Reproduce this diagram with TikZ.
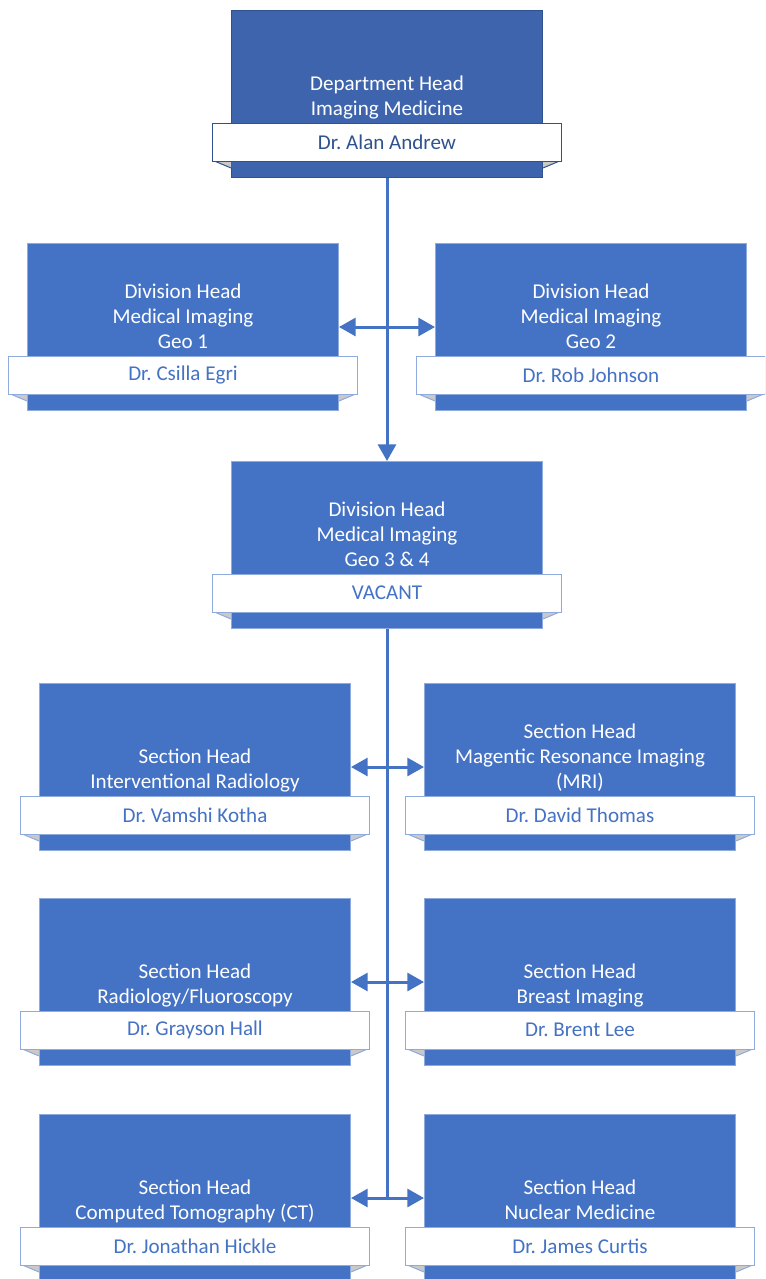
\documentclass[tikz,border=0pt]{standalone}
\usepackage{fontspec}
\setmainfont{Carlito}
\frenchspacing
\usetikzlibrary{arrows.meta,calc}
\definecolor{boxblue}{HTML}{4472C4}
\definecolor{topblue}{HTML}{3E64AE}
\definecolor{darkline}{HTML}{2F528F}
\definecolor{edgeblue}{HTML}{8FAADC}
\definecolor{foldgray}{HTML}{C9C9C9}
\tikzset{
 orgbox/.style={rectangle, fill=boxblue, draw=edgeblue, line width=0.75pt, minimum width=233.25pt, minimum height=125.25pt, inner sep=0pt, anchor=north west},
 topbox/.style={orgbox, fill=topblue, draw=darkline},
 titletext/.style={text=white, font=\fontsize{15.8pt}{18.75pt}\selectfont, align=center, anchor=south, inner sep=0pt, text depth=0pt},
 nametab/.style={rectangle, fill=white, draw=edgeblue, line width=0.75pt, minimum width=261.75pt, minimum height=28.5pt, inner sep=0pt, text=boxblue, font=\fontsize{15.8pt}{18pt}\selectfont},
 topnametab/.style={nametab, draw=darkline, text=darkline},
 foldfill/.style={fill=foldgray},
 foldline/.style={draw=edgeblue, line width=0.75pt},
 topfoldline/.style={draw=darkline, line width=0.75pt},
 link/.style={draw=boxblue, line width=2.25pt},
 onetip/.style={-{Triangle[length=12.5pt,width=13.5pt]}},
 twotip/.style={{Triangle[length=12.5pt,width=13.5pt]}-{Triangle[length=12.5pt,width=13.5pt]}},
}
% #1 name, #2 x, #3 y, #4 box style, #5 tab style, #6 fold line style, #7 title, #8 person
\newcommand\orgunit[8]{%
 \node[#4] (#1) at (#2,#3) {};
 \node[titletext] (#1-title) at ($(#1.north)+(0,105.5)$) {#7};
 \fill[foldfill] ($(#1.north west)+(-19,150)$) -- ($(#1.north west)+(0,150)$) -- ($(#1.north west)+(0,158)$) -- cycle;
 \fill[foldfill] ($(#1.north east)+(19,150)$) -- ($(#1.north east)+(0,150)$) -- ($(#1.north east)+(0,158)$) -- cycle;
 \draw[#6] ($(#1.north west)+(-19,150)$) -- ($(#1.north west)+(0,158)$);
 \draw[#6] ($(#1.north east)+(19,150)$) -- ($(#1.north east)+(0,158)$);
 \node[#5] (#1-name) at ($(#1.north)+(0,132)$) {#8};
}
\begin{document}
\begin{tikzpicture}[x=0.75pt, y=-0.75pt]
\useasboundingbox (0,0) rectangle (765,1279);
\clip (0,0) rectangle (765,1279);
\orgunit{top}{231}{10}{topbox}{topnametab}{topfoldline}{Department Head\\Imaging Medicine}{Dr. Alan Andrew}
\orgunit{geo1}{27}{243}{orgbox}{nametab}{foldline}{Division Head\\Medical Imaging\\Geo 1}{Dr. Csilla Egri}
\orgunit{geo2}{435}{243}{orgbox}{nametab}{foldline}{Division Head\\Medical Imaging\\Geo 2}{Dr. Rob Johnson}
\orgunit{geo34}{231}{461}{orgbox}{nametab}{foldline}{Division Head\\Medical Imaging\\Geo 3 \& 4}{VACANT}
\orgunit{r1l}{39}{683}{orgbox}{nametab}{foldline}{Section Head\\Interventional Radiology}{Dr. Vamshi Kotha}
\orgunit{r1r}{424}{683}{orgbox}{nametab}{foldline}{Section Head\\Magentic Resonance Imaging\\(MRI)}{Dr. David Thomas}
\orgunit{r2l}{39}{898}{orgbox}{nametab}{foldline}{Section Head\\Radiology/Fluoroscopy}{Dr. Grayson Hall}
\orgunit{r2r}{424}{898}{orgbox}{nametab}{foldline}{Section Head\\Breast Imaging}{Dr. Brent Lee}
\orgunit{r3l}{39}{1114}{orgbox}{nametab}{foldline}{Section Head\\Computed Tomography (CT)}{Dr. Jonathan Hickle}
\orgunit{r3r}{424}{1114}{orgbox}{nametab}{foldline}{Section Head\\Nuclear Medicine}{Dr. James Curtis}
\coordinate (j3) at (geo34.south |- r3l.east);
\draw[link,onetip] (top.south) -- (geo34.north);
\draw[link,twotip] (geo1.east) -- (geo2.west);
\draw[link] (geo34.south) -- (j3);
\draw[link,twotip] (r1l.east) -- (r1r.west);
\draw[link,twotip] (r2l.east) -- (r2r.west);
\draw[link,twotip] (r3l.east) -- (r3r.west);
\end{tikzpicture}
\end{document}
